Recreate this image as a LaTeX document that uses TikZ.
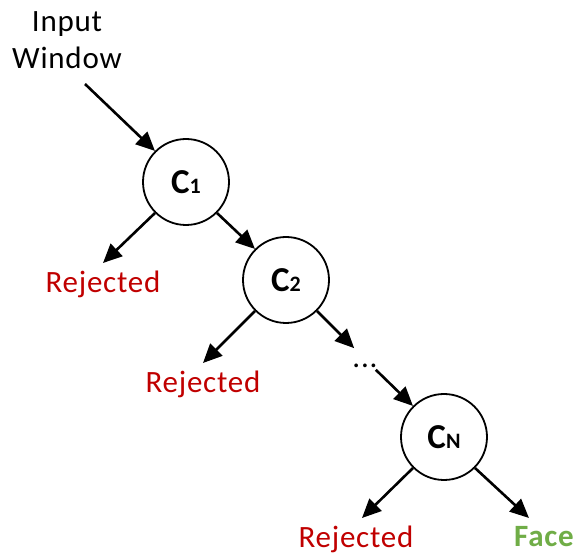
\documentclass[tikz,border=0pt]{standalone}
\usepackage{fontspec}
\setmainfont{Carlito}[LetterSpace=2.5]
\usetikzlibrary{arrows.meta}
\definecolor{rejred}{HTML}{C00000}
\definecolor{facegreen}{HTML}{70AD47}
\tikzset{
  x=1pt, y=1pt,
  clf/.style={circle, draw, line width=1.8pt, minimum size=86pt, inner sep=0pt,
    font=\fontsize{35}{35}\selectfont\bfseries},
  arr/.style={line width=2.6pt, -{Triangle[length=19pt,width=17pt]}},
  lbl/.style={font=\fontsize{31}{37}\selectfont, inner sep=4pt},
  rej/.style={lbl, text=rejred, anchor=north, inner ysep=8pt},
  facelbl/.style={lbl, text=facegreen, anchor=north, inner ysep=8pt, font=\fontsize{31}{37}\selectfont\bfseries},
}
\newcommand{\clsub}[1]{{\fontsize{22}{22}\selectfont #1}}
\begin{document}
\begin{tikzpicture}
\useasboundingbox (0,0) rectangle (576,556);
\node[lbl, align=center, inner sep=3pt, anchor=south] (input) at (67,484) {Input\\Window};
\node[clf] (c1) at (186,374) {C\clsub{1}};
\node[clf] (c2) at (286,276) {C\clsub{2}};
\node[clf] (cn) at (444,119) {C\clsub{N}};
\node[rej] (rej1) at (103,293) {Rejected};
\node[rej] (rej2) at (203,193) {Rejected};
\node[rej] (rej3) at (356,38) {Rejected};
\node[facelbl] (face) at (544,38) {Face};
\node[circle, inner sep=0pt, minimum size=28pt, text height=17pt, text depth=0pt,
  font=\fontsize{31}{37}\selectfont] (dots) at (365,197) {...};
\draw[arr] ([shift={(18pt,-12pt)}]input.south) -- (c1.135);
\draw[arr] (c1.225) -- (rej1.north);
\draw[arr] (c1.315) -- (c2.135);
\draw[arr] (c2.225) -- (rej2.north);
\draw[arr] (c2.315) -- (dots.135);
\draw[arr] (dots.-45) -- (cn.135);
\draw[arr] (cn.225) -- ([xshift=6pt]rej3.north);
\draw[arr] (cn.315) -- ([xshift=-15pt]face.north);
\end{tikzpicture}
\end{document}
